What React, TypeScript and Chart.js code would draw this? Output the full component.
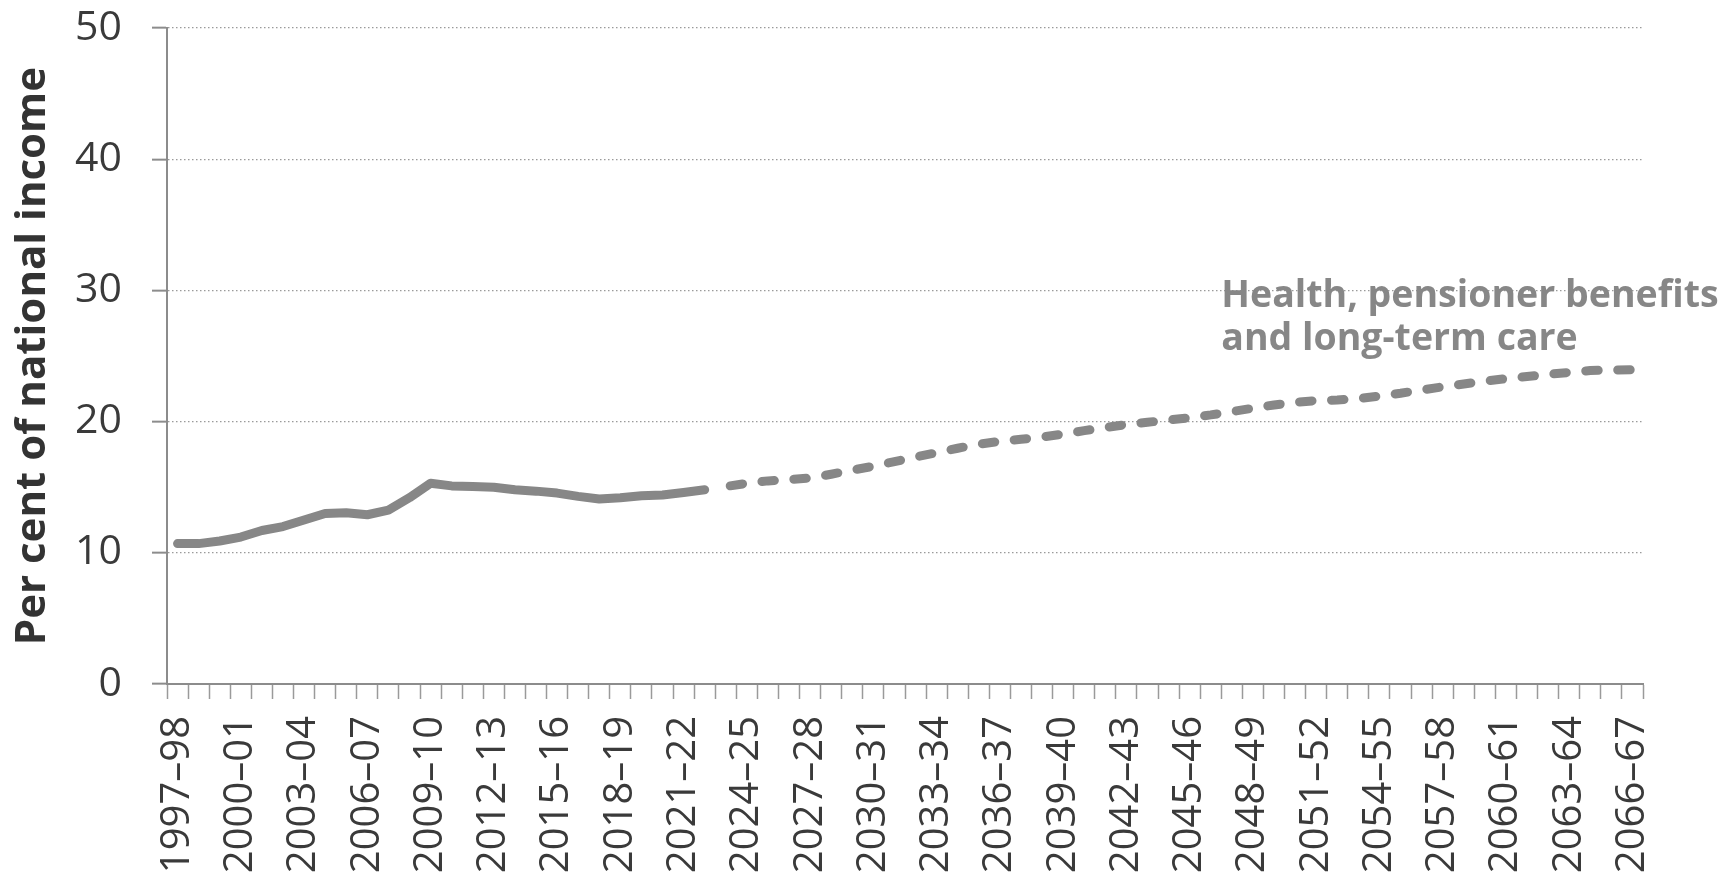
import React, { useEffect, useRef } from 'react';
import { Chart, registerables } from 'chart.js';

Chart.register(...registerables);

// Fiscal-year categories, 1997–98 to 2066–67
const categories: string[] = [
  '1997–98', '1998–99', '1999–00', '2000–01', '2001–02', '2002–03', '2003–04', '2004–05', '2005–06', '2006–07',
  '2007–08', '2008–09', '2009–10', '2010–11', '2011–12', '2012–13', '2013–14', '2014–15', '2015–16', '2016–17',
  '2017–18', '2018–19', '2019–20', '2020–21', '2021–22', '2022–23', '2023–24', '2024–25', '2025–26', '2026–27',
  '2027–28', '2028–29', '2029–30', '2030–31', '2031–32', '2032–33', '2033–34', '2034–35', '2035–36', '2036–37',
  '2037–38', '2038–39', '2039–40', '2040–41', '2041–42', '2042–43', '2043–44', '2044–45', '2045–46', '2046–47',
  '2047–48', '2048–49', '2049–50', '2050–51', '2051–52', '2052–53', '2053–54', '2054–55', '2055–56', '2056–57',
  '2057–58', '2058–59', '2059–60', '2060–61', '2061–62', '2062–63', '2063–64', '2064–65', '2065–66', '2066–67',
];

// Outturn (solid line), 1997–98 to 2022–23, per cent of national income
const outturnValues: number[] = [
  10.7, 10.7, 10.9, 11.2, 11.7, 12.0, 12.5, 13.0, 13.05, 12.9,
  13.25, 14.2, 15.3, 15.1, 15.05, 15.0, 14.8, 14.7, 14.55, 14.3,
  14.1, 14.2, 14.35, 14.4, 14.6, 14.8,
];

// Projection (dashed line), 2023–24 to 2066–67
const projectionValues: number[] = [
  15.05, 15.3, 15.48, 15.58, 15.7, 15.99, 16.3, 16.6, 16.95, 17.3,
  17.63, 17.97, 18.28, 18.5, 18.65, 18.83, 19.05, 19.31, 19.55, 19.78,
  19.95, 20.12, 20.3, 20.51, 20.76, 21.02, 21.27, 21.47, 21.6, 21.65,
  21.75, 21.95, 22.16, 22.41, 22.65, 22.87, 23.08, 23.27, 23.43, 23.6,
  23.75, 23.89, 23.93, 23.95,
];

const yMin = 0;
const yMax = 50;
const yStep = 10;
const labelEvery = 3;
const yAxisTitle = 'Per cent of national income';
const annotationLines: string[] = ['Health, pensioner benefits', 'and long-term care'];

const FONT = '"Open Sans", "Noto Sans", sans-serif';
const LINE_GREY = '#878787';
const AXIS_GREY = '#8c8c8c';
const TEXT_DARK = '#3a3a3a';

export default function App() {
  const canvasRef = useRef<HTMLCanvasElement | null>(null);

  useEffect(() => {
    const canvas = canvasRef.current;
    if (!canvas) return;

    const outturnData = categories.map((_, i) => (i < outturnValues.length ? outturnValues[i] : null));
    const projStart = categories.length - projectionValues.length;
    const projectionData = categories.map((_, i) => (i >= projStart ? projectionValues[i - projStart] : null));

    const annotationPlugin = {
      id: 'seriesAnnotation',
      afterDatasetsDraw(chart: any) {
        const { ctx, scales } = chart;
        const x = scales.x;
        const y = scales.y;
        ctx.save();
        ctx.font = `bold 37.5px ${FONT}`;
        ctx.fillStyle = LINE_GREY;
        ctx.textAlign = 'left';
        ctx.textBaseline = 'alphabetic';
        const px = x.getPixelForValue(49.5);
        const py = y.getPixelForValue(28.75);
        annotationLines.forEach((t, i) => ctx.fillText(t, px, py + i * 43));
        ctx.restore();
      },
    };

    const chart = new Chart(canvas, {
      type: 'line',
      data: {
        labels: categories,
        datasets: [
          {
            label: 'Outturn',
            data: outturnData,
            borderColor: LINE_GREY,
            borderWidth: 9,
            borderCapStyle: 'round',
            borderJoinStyle: 'round',
            pointRadius: 0,
            tension: 0,
            spanGaps: false,
          },
          {
            label: 'Projection',
            data: projectionData,
            borderColor: LINE_GREY,
            borderWidth: 9,
            borderCapStyle: 'round',
            borderJoinStyle: 'round',
            borderDash: [12.5, 19.5],
            borderDashOffset: 27.5,
            pointRadius: 0,
            tension: 0,
            spanGaps: false,
          },
        ],
      },
      options: {
        animation: false,
        responsive: false,
        maintainAspectRatio: false,
        devicePixelRatio: 1,
        layout: { padding: { top: 28, right: 90, bottom: 0, left: 0 } },
        plugins: {
          legend: { display: false },
          tooltip: { enabled: false },
        },
        scales: {
          x: {
            type: 'category',
            offset: true,
            grid: {
              drawOnChartArea: false,
              drawTicks: true,
              tickLength: 15,
              tickColor: '#9a9a9a',
              tickWidth: 1.5,
              offset: true,
            },
            border: { color: AXIS_GREY, width: 2 },
            ticks: {
              autoSkip: false,
              maxRotation: 90,
              minRotation: 90,
              padding: 17,
              color: TEXT_DARK,
              font: { family: FONT, size: 40 },
              callback: (_v: any, i: number) => (i % labelEvery === 0 ? categories[i] : ''),
            },
            afterFit: (s: any) => {
              s.height = 194;
              s.paddingLeft = 0;
              s.paddingRight = 0;
            },
          },
          y: {
            min: yMin,
            max: yMax,
            ticks: {
              stepSize: yStep,
              padding: 30,
              color: TEXT_DARK,
              font: { family: FONT, size: 41 },
            },
            grid: {
              color: '#9a9a9a',
              lineWidth: 1.3,
              tickLength: 15,
              tickColor: AXIS_GREY,
              tickWidth: 2,
            },
            border: { color: AXIS_GREY, width: 2, dash: [1.5, 2.5] },
            title: {
              display: true,
              text: yAxisTitle,
              color: '#333333',
              font: { family: FONT, size: 42, weight: 'bold' },
              padding: { top: 8, bottom: 0 },
            },
            afterFit: (s: any) => {
              s.width = 167;
              s.paddingTop = 0;
              s.paddingBottom = 0;
            },
          },
        },
      },
      plugins: [annotationPlugin],
    } as any);

    return () => chart.destroy();
  }, []);

  return (
    <div style={{ position: 'absolute', left: 0, top: 0, width: 1733, height: 878 }}>
      <canvas ref={canvasRef} width={1733} height={878} style={{ display: 'block', width: 1733, height: 878 }} />
    </div>
  );
}
